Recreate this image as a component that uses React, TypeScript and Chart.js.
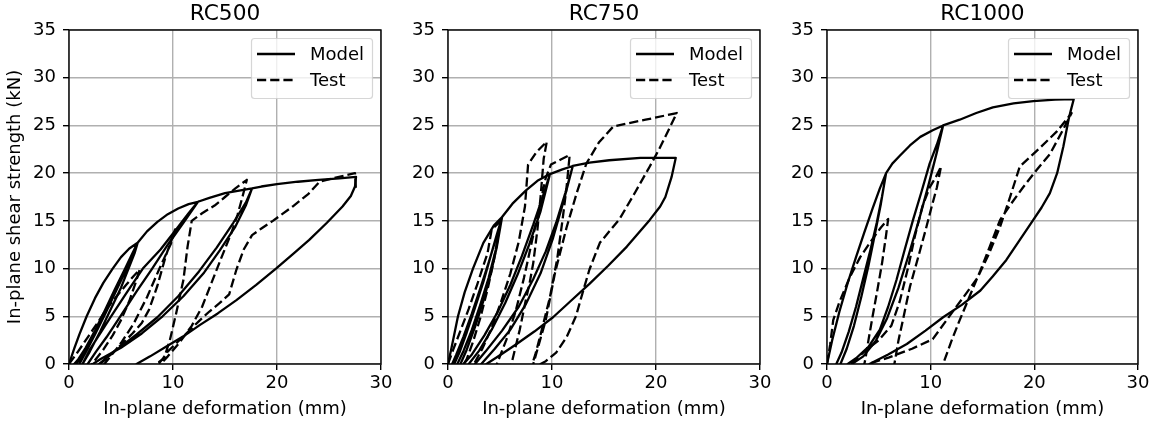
import React, { useEffect, useRef } from "react";
import { Chart, registerables } from "chart.js";

Chart.register(...registerables);

type Pt = [number, number];

// ---------- texts & ticks ----------
const PANEL_TITLES = ["RC500", "RC750", "RC1000"];
const SERIES_NAMES = ["Model", "Test"];
const X_LABEL = "In-plane deformation (mm)";
const Y_LABEL = "In-plane shear strength (kN)";
const X_TICKS = [0, 10, 20, 30];
const Y_TICKS = [0, 5, 10, 15, 20, 25, 30, 35];

// ---------- data (deformation mm, shear kN) ----------
const rc500Model: Pt[] = [
  [0, 0], [0.5, 1.6], [1, 3.1], [1.7, 5], [2.5, 6.9], [3.3, 8.5], [4.2, 10], [5, 11.2], [5.8, 12.1], [6.6, 12.7],
  [6.1, 11.6], [5.4, 10], [4.4, 7.8], [3.4, 5.5], [2.5, 3.5], [1.6, 1.7], [0.9, 0.5], [0.5, 0], [0.4, -1],
  [0.9, -1], [1, 0], [1.6, 1.2], [2.5, 3.1], [3.5, 5.3], [4.5, 7.6], [5.5, 9.9], [6.1, 11.4], [6.6, 12.7],
  [6.2, 11.8], [5.6, 10.4], [4.7, 8.3], [3.7, 6], [2.8, 3.9], [1.9, 2], [1.1, 0.6], [0.7, 0], [0.6, -1],
  [1.1, -1], [1.3, 0], [2, 1.3], [3, 3.4], [4, 5.7], [5, 8], [5.8, 10.2], [6.3, 11.6], [6.6, 12.7],
  [7.5, 13.9], [8.5, 14.9], [9.5, 15.7], [10.5, 16.3], [11.5, 16.75], [12.4, 17.0],
  [11.5, 15.8], [10.3, 14.1], [8.8, 12], [7.1, 10], [5.5, 7.4], [4, 4.9], [3, 3.2], [2, 1.5], [1.3, 0], [1.2, -1],
  [1.6, -1], [1.8, 0], [2.6, 1.3], [3.6, 2.8], [5, 5.1], [6.5, 7.6], [8, 10], [9.5, 12.5], [11, 14.8], [12.4, 17],
  [13.5, 17.4], [15, 17.9], [16.5, 18.2], [17.6, 18.4],
  [17, 16.6], [16, 14.4], [14.5, 11.9], [13, 9.6], [11, 7.1], [9, 5], [7, 3.2], [5, 1.7], [3, 0.5], [2.3, 0], [2.2, -1],
  [2.6, -1], [2.9, 0], [4.6, 1.5], [6.5, 3.1], [8.5, 4.9], [10.5, 7.1], [12.5, 9.7], [14.2, 12.2], [15.8, 14.8], [17, 16.9], [17.6, 18.4],
  [18.5, 18.6], [20, 18.85], [22, 19.1], [24, 19.3], [26, 19.45], [27.6, 19.6],
  [27.5, 18.6], [27.1, 17.6], [26.3, 16.5], [24.8, 14.8], [23.1, 13.0], [21.5, 11.5], [19.9, 10.0], [18, 8.3], [16.1, 6.7],
  [14.3, 5.3], [12.6, 4.1], [11, 2.9], [9.4, 1.85], [7.8, 0.8], [6.5, 0], [6.2, -0.6],
];

const rc500Test: Pt[] = [
  [0, 0], [0.8, 1.2], [1.8, 2.8], [2.8, 4.4], [3.5, 5.6], [4.5, 7.0], [5.5, 8.3], [6.2, 9.2], [6.8, 9.9],
  [6.4, 8.5], [5.8, 6.6], [5, 4.6], [4.2, 3], [3.3, 1.5], [2.5, 0.4], [2.2, 0], [2, -1],
  [2.6, -1], [3, 0], [4, 1], [5.2, 2.2], [6.1, 3.2], [7, 4.3], [7.7, 5.7], [8.5, 8.2], [9.3, 11.3], [10.2, 14.1],
  [9.8, 12.6], [9.2, 11.2], [8.7, 10], [7.5, 7], [6.2, 4.2], [5, 2.2], [4, 0.8], [3.4, 0], [3.2, -1],
  [7.9, -1], [8.6, 0], [9.2, 0.8], [9.7, 2.5], [10.3, 5.3], [11, 8.8], [11.4, 12.3], [11.8, 15.0], [12.8, 15.8], [14, 16.6], [15, 17.5], [16, 18.4], [17.1, 19.3],
  [16.7, 17.6], [16.2, 15.6], [15.6, 13.7], [14.6, 11], [13.7, 8.5], [12.8, 6], [11.8, 4], [10.6, 2.2], [9.5, 0.8], [8.8, 0], [8.6, -1],
  [8.2, -1], [8.4, 0], [9, 0.5], [9.4, 1.2], [11, 2.9], [12.5, 4.5], [13.5, 5.5], [14.5, 6.4], [15.4, 7.3], [16.1, 9.9], [16.8, 12],
  [17.6, 13.5], [18.5, 14.2], [19.6, 15], [21.5, 16.5], [23, 17.8], [24.1, 19.1], [25.5, 19.5], [27.5, 20.0], [27.6, 18.1],
];

const rc750Model: Pt[] = [
  [0, 0], [0.3, 1.5], [0.96, 5], [1.6, 7.5], [2.4, 10], [3.4, 12.7], [4.4, 14.5], [5.2, 15.4],
  [4.6, 13.1], [3.9, 10.6], [3.1, 7.9], [2.3, 5.3], [1.5, 2.9], [0.8, 1], [0.4, 0], [0.3, -1],
  [0.8, -1], [0.9, 0], [1.5, 1.4], [2.3, 3.6], [3.1, 6.2], [3.9, 9], [4.6, 12], [5.2, 15.4],
  [4.7, 13.6], [4.1, 11.3], [3.4, 8.6], [2.6, 5.9], [1.8, 3.3], [1.1, 1.2], [0.6, 0], [0.5, -1],
  [1, -1], [1.2, 0], [1.8, 1.5], [2.6, 3.9], [3.4, 6.6], [4.1, 9.4], [4.7, 12.3], [5.2, 15.4],
  [6.2, 16.8], [7.5, 18.2], [8.6, 19.2], [9.8, 19.9],
  [9.1, 17.5], [8.2, 14.6], [7.1, 11.3], [6, 8.3], [4.8, 5.5], [3.5, 3], [2.3, 1], [1.5, 0], [1.3, -1],
  [1.8, -1], [2, 0], [3, 1.4], [4.2, 3.6], [5.5, 6.4], [6.7, 9.4], [7.8, 12.5], [8.9, 16], [9.8, 19.9],
  [11, 20.4], [12, 20.75],
  [11.3, 18], [10.4, 14.8], [9.4, 11.8], [8.2, 8.9], [6.8, 6], [5.2, 3.5], [3.6, 1.3], [2.6, 0], [2.4, -1],
  [3, -1], [3.2, 0], [4.5, 1.6], [6, 3.6], [7.5, 6.3], [8.9, 9.5], [10.1, 13.2], [11.1, 17], [12, 20.75],
  [13.6, 21.1], [15.5, 21.35], [18.5, 21.6], [21.9, 21.6],
  [21.5, 19.6], [20.9, 17.5], [20.4, 16.5], [19.4, 15.1], [18.3, 13.7], [17.2, 12.3], [15.4, 10.3], [13.6, 8.4],
  [11.8, 6.6], [10.1, 4.9], [8.3, 3.4], [6.6, 2.1], [5.1, 1], [3.7, 0], [3.4, -0.5],
];

const rc750Test: Pt[] = [
  [0, 0], [0.5, 1.5], [1.2, 3.5], [2, 5.8], [2.8, 8.3], [3.4, 10.3], [3.8, 11.6], [4.2, 14.1], [5.0, 14.9],
  [4.8, 13.2], [4.4, 10.8], [3.8, 7.8], [3.1, 4.8], [2.4, 2.3], [1.8, 0.5], [1.5, 0], [1.4, -1],
  [2.2, -1], [2.5, 0], [3.3, 1.6], [4.2, 3.8], [5.1, 6.5], [6, 9.5], [6.8, 12.8], [7.4, 16.5], [7.7, 20.9], [8.5, 22.2], [9.5, 23.3],
  [9.2, 21.5], [8.9, 17.5], [8.6, 14.1], [8.2, 10.6], [7.85, 8.5], [7.5, 6.8], [6.9, 3.6], [6.1, 0], [5.9, -1],
  [4.5, -1], [4.7, 0], [5.6, 2.5], [6.5, 5.5], [7.3, 9], [8, 12.5], [8.8, 16.5], [9.4, 19.5], [9.9, 20.9], [10.8, 21.4], [11.7, 21.9],
  [11.4, 18.5], [11, 15], [10.5, 11], [9.8, 7], [9, 3.5], [8.4, 1], [8.1, 0], [8, -1],
  [7.9, -1], [8.2, 0], [9.4, 4.6], [10.3, 9.6], [11.4, 14.3], [12.4, 18], [13.3, 21], [14.5, 23.2], [15.9, 24.9], [19, 25.6], [22, 26.3],
  [21.2, 24.5], [20.3, 22.5], [19.4, 20.7], [18, 18], [16.5, 15.2], [14.6, 12.7], [13.6, 9.9], [12.9, 7.3], [12.3, 5],
  [11.4, 2.8], [10.4, 1.2], [9.4, 0.3], [8.9, 0], [8.8, -1],
];

const rc1000Model: Pt[] = [
  [0, 0], [0.5, 2.5], [1.2, 5.5], [2, 8.5], [2.8, 11.2], [3.6, 13.8], [4.4, 16.3], [5.1, 18.4], [5.7, 20.0],
  [5.3, 17.5], [4.8, 14.8], [4.2, 12], [3.5, 9], [2.8, 6], [2.1, 3.4], [1.4, 1.2], [0.9, 0], [0.8, -1],
  [1.2, -1], [1.3, 0], [1.9, 1.6], [2.6, 4], [3.3, 7], [4, 10.3], [4.6, 13.5], [5.2, 16.8], [5.7, 20],
  [6.3, 21], [7, 21.8], [8, 22.9], [9, 23.8], [10.2, 24.5], [11.2, 25.0],
  [10.6, 23], [9.9, 21], [9.1, 18], [8.3, 15.1], [7.5, 12], [6.7, 8.8], [5.9, 6], [5.1, 3.6], [4, 1.8], [2.8, 0.6], [2, 0], [1.8, -1],
  [2.2, -1], [2.4, 0], [3.5, 0.8], [4.7, 2.4], [5.8, 4.8], [6.9, 8], [7.9, 11.5], [8.9, 15.2], [9.8, 18.8], [10.6, 22.2], [11.2, 25],
  [12.8, 25.6], [14.4, 26.3], [16, 26.9], [18, 27.3], [19.9, 27.55], [22, 27.7], [23.8, 27.75],
  [23.5, 26.5], [23.3, 25.6], [22.8, 22.8], [22.2, 20], [21.5, 17.9], [20.7, 16.4], [19.9, 15.1], [18.6, 13], [17.3, 10.9],
  [16, 9.2], [14.8, 7.7], [13, 6.2], [11.2, 4.9], [9.5, 3.5], [7.7, 2.1], [5.9, 1], [4.1, 0], [3.9, -0.5],
];

const rc1000Test: Pt[] = [
  [0, 0], [0.3, 2], [0.6, 4.6], [1.2, 6.5], [2.2, 9.1], [3.2, 11.2], [4.2, 12.8], [5.2, 14.3], [5.9, 15.2],
  [5.7, 13.5], [5.3, 10.5], [4.9, 8], [4.4, 5], [4, 2.5], [3.7, 0.5], [3.6, 0], [3.5, -1],
  [2, -1], [2.3, 0], [3.5, 1.2], [5, 2.5], [6.2, 4], [7, 6.5], [7.8, 10], [8.5, 13.5], [9.2, 16.5], [9.9, 18.5], [10.5, 19.6], [11, 20.7],
  [10.6, 18.5], [10.1, 16.5], [9.6, 14.4], [8.8, 11.2], [8, 8.1], [7.4, 5], [6.9, 2.5], [6.5, 0], [6.4, -1],
  [3.8, -1], [4, 0], [6, 0.7], [8.2, 1.6], [10.2, 2.6], [12.2, 5.6], [13.5, 7.5], [14.5, 9], [15.6, 11.5], [16.7, 14.4],
  [17.6, 17.3], [18.6, 20.7], [20.5, 22.6], [22.2, 24.4], [23.6, 26.3],
  [22.6, 24.2], [21.5, 22], [20.2, 20.3], [18.9, 18.5], [17.7, 16.7], [16.7, 15.1], [15.7, 12.3], [14.8, 9.8], [13.8, 7.2],
  [12.8, 4.6], [12, 2.4], [11.3, 0.3], [11.2, 0], [11.1, -1],
];

const MODEL_SERIES: Pt[][] = [rc500Model, rc750Model, rc1000Model];
const TEST_SERIES: Pt[][] = [rc500Test, rc750Test, rc1000Test];

// ---------- layout & style ----------
const W = 1161;
const H = 427;
const PLOT_LEFT = [69, 448, 827];
const PLOT_RIGHT = [381, 760, 1138];
const PLOT_TOP = 30;
const PLOT_BOTTOM = 364;
const Y_AXIS_W = 69;
const FONT = "'DejaVu Sans', 'Liberation Sans', sans-serif";
const TICK_SIZE = 18;
const TITLE_SIZE = 21.7;
const LINE_W = 2.3;
const DASH = [9.2, 4];

const framePlugin = {
  id: "mplFrame",
  afterDatasetsDraw(chart: any, _args: any, opts: any) {
    const { ctx, chartArea } = chart;
    const { left, right, top, bottom } = chartArea;
    ctx.save();
    // spines
    ctx.strokeStyle = "#000";
    ctx.lineWidth = 1.4;
    ctx.setLineDash([]);
    ctx.strokeRect(left, top, right - left, bottom - top);

    // legend
    const bw = 121;
    const bh = 60;
    const bx = right - 9 - bw;
    const by = top + 8;
    ctx.beginPath();
    ctx.roundRect(bx + 0.5, by + 0.5, bw, bh, 3);
    ctx.fillStyle = "rgba(255,255,255,0.8)";
    ctx.fill();
    ctx.strokeStyle = "rgba(204,204,204,0.8)";
    ctx.lineWidth = 1.2;
    ctx.stroke();
    ctx.font = `${TICK_SIZE}px ${FONT}`;
    ctx.textBaseline = "middle";
    ctx.textAlign = "left";
    chart.data.datasets.forEach((ds: any, i: number) => {
      const y = by + 16 + i * 26;
      ctx.beginPath();
      ctx.setLineDash(ds.borderDash || []);
      ctx.lineWidth = ds.borderWidth;
      ctx.strokeStyle = ds.borderColor;
      ctx.moveTo(bx + 6, y);
      ctx.lineTo(bx + 44, y);
      ctx.stroke();
      ctx.setLineDash([]);
      ctx.fillStyle = "#000";
      ctx.fillText(ds.label, bx + 59, y + 1);
    });

    // title
    ctx.font = `${TITLE_SIZE}px ${FONT}`;
    ctx.textAlign = "center";
    ctx.textBaseline = "alphabetic";
    ctx.fillStyle = "#000";
    ctx.fillText(opts.title, (left + right) / 2, 19.5);
    ctx.restore();
  },
};

function Panel({ index }: { index: number }) {
  const ref = useRef<HTMLCanvasElement | null>(null);
  useEffect(() => {
    if (!ref.current) return;
    const toXY = (pts: Pt[]) => pts.map(([x, y]) => ({ x, y }));
    const gridOpts = {
      color: "#b0b0b0",
      lineWidth: 1.4,
      tickLength: 6,
      tickColor: "#000",
      tickWidth: 1.4,
    };
    const chart = new Chart(ref.current, {
      type: "scatter",
      data: {
        datasets: [
          {
            label: SERIES_NAMES[0],
            data: toXY(MODEL_SERIES[index]),
            showLine: true,
            borderColor: "#000",
            backgroundColor: "#000",
            borderWidth: LINE_W,
            pointRadius: 0,
            tension: 0,
            borderJoinStyle: "round",
            order: 1,
          } as any,
          {
            label: SERIES_NAMES[1],
            data: toXY(TEST_SERIES[index]),
            showLine: true,
            borderColor: "#000",
            backgroundColor: "#000",
            borderWidth: LINE_W,
            borderDash: DASH,
            pointRadius: 0,
            tension: 0,
            borderJoinStyle: "round",
            order: 0,
          } as any,
        ],
      },
      options: {
        responsive: false,
        animation: false,
        events: [],
        layout: {
          padding: {
            left: PLOT_LEFT[index] - Y_AXIS_W,
            right: W - PLOT_RIGHT[index],
            top: PLOT_TOP,
            bottom: 0,
          },
        },
        font: { family: FONT },
        scales: {
          x: {
            type: "linear",
            min: X_TICKS[0],
            max: X_TICKS[X_TICKS.length - 1],
            afterFit: (s: any) => {
              s.height = H - PLOT_BOTTOM;
            },
            afterBuildTicks: (s: any) => {
              s.ticks = X_TICKS.map((v) => ({ value: v }));
            },
            ticks: {
              color: "#000",
              font: { family: FONT, size: TICK_SIZE },
              padding: 2.8,
              maxRotation: 0,
              autoSkip: false,
            },
            grid: gridOpts,
            border: { display: false },
            title: {
              display: true,
              text: X_LABEL,
              color: "#000",
              font: { family: FONT, size: TICK_SIZE },
              padding: { top: 0, bottom: 6.9 },
            },
          },
          y: {
            type: "linear",
            min: Y_TICKS[0],
            max: Y_TICKS[Y_TICKS.length - 1],
            afterFit: (s: any) => {
              s.width = Y_AXIS_W;
            },
            afterBuildTicks: (s: any) => {
              s.ticks = Y_TICKS.map((v) => ({ value: v }));
            },
            ticks: {
              color: "#000",
              font: { family: FONT, size: TICK_SIZE },
              padding: 7,
              autoSkip: false,
            },
            grid: gridOpts,
            border: { display: false },
            title: {
              display: index === 0,
              text: Y_LABEL,
              color: "#000",
              font: { family: FONT, size: TICK_SIZE },
              padding: { top: 4.5, bottom: 0 },
            },
          },
        },
        plugins: {
          legend: { display: false },
          tooltip: { enabled: false },
          title: { display: false },
          mplFrame: { title: PANEL_TITLES[index] },
        } as any,
      },
      plugins: [framePlugin],
    });
    return () => chart.destroy();
  }, [index]);
  return (
    <canvas
      ref={ref}
      width={W}
      height={H}
      style={{ position: "absolute", left: 0, top: 0, width: W, height: H }}
    />
  );
}

export default function App() {
  return (
    <div style={{ position: "absolute", left: 0, top: 0, width: W, height: H, background: "#fff" }}>
      {PANEL_TITLES.map((_, i) => (
        <Panel key={i} index={i} />
      ))}
    </div>
  );
}
